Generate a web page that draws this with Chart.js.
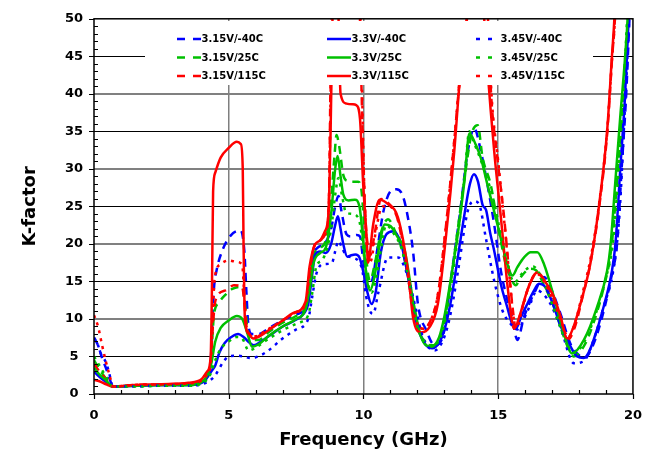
<!DOCTYPE html>
<html>
<head>
<meta charset="utf-8">
<script src="https://cdn.jsdelivr.net/npm/chart.js@4.4.0/dist/chart.umd.min.js"></script>
<style>
  body { margin: 0; background: #fff; }
  #wrap { width: 656px; height: 454px; }
</style>
</head>
<body>
<div id="wrap"><canvas id="kChart" width="656" height="454"></canvas></div>
<script>
// K-factor vs frequency, [GHz, K] pairs per supply/temperature corner
const v315_m40 = [[0,7.5],[0.15,6.5],[0.3,4.8],[0.45,3.4],[0.6,1.8],[0.7,1.0],[1.5,1.1],[2.5,1.2],[3.5,1.2],[4.0,1.5],[4.2,2.2],[4.33,4],[4.38,9],[4.45,14],[4.55,16.5],[4.76,19.1],[5.07,21.1],[5.44,21.8],[5.58,19],[5.65,14],[5.72,9.5],[5.85,8.0],[6.1,8.0],[6.5,8.8],[7.0,9.8],[7.5,10.6],[7.85,11.5],[8.0,14],[8.15,18.5],[8.3,19.5],[8.55,20],[8.8,22],[8.95,25],[9.07,26.4],[9.2,24],[9.37,21.3],[9.55,21],[9.75,21.2],[9.87,21],[10.0,17.5],[10.15,14.8],[10.3,15],[10.5,19],[10.75,24.5],[11.0,27],[11.22,27.3],[11.45,26.5],[11.65,23.5],[11.84,19],[12.02,12],[12.33,8.5],[12.64,6.5],[12.94,7.6],[13.25,15.5],[13.56,23.5],[13.87,32.3],[14.11,35.4],[14.36,32.3],[14.6,27.9],[14.85,22.6],[15.1,16.4],[15.34,12.5],[15.5,10.5],[15.71,7.2],[15.96,10.3],[16.33,13.4],[16.7,15.6],[16.94,14.2],[17.31,10.7],[17.68,6.7],[18.05,5],[18.2,4.8],[18.54,6.7],[18.91,11],[19.22,16],[19.41,20],[19.58,30],[19.75,40],[19.87,50],[19.93,55]];
const v315_p25 = [[0,4.5],[0.2,3.3],[0.45,2.0],[0.7,1.0],[1.5,1.1],[2.5,1.2],[3.5,1.2],[4.0,1.5],[4.2,2.3],[4.33,4],[4.4,8],[4.45,10.5],[4.64,12.2],[4.9,13.3],[5.13,14],[5.5,14.3],[5.6,12],[5.7,8.5],[5.85,7.2],[6.1,7.2],[6.5,8.3],[7.0,9.5],[7.5,10.4],[7.85,11.6],[8.0,14.5],[8.15,18.5],[8.4,19.5],[8.6,20.5],[8.8,26],[8.93,32],[9.0,34.5],[9.1,33],[9.25,29.2],[9.4,28.4],[9.56,28.3],[9.8,28.3],[9.93,27],[10.05,21],[10.15,16.5],[10.25,15.1],[10.4,17],[10.65,21.5],[10.91,23.3],[11.16,21.8],[11.45,19],[11.75,14],[12.05,8.5],[12.35,6.8],[12.6,6.5],[12.9,8],[13.2,14],[13.5,22],[13.8,30],[14.0,34.5],[14.24,35.8],[14.42,31.5],[14.72,27.9],[15.03,21.7],[15.28,17.3],[15.53,15],[15.65,14.5],[15.84,15.6],[16.2,16.7],[16.4,16.5],[16.7,14.5],[17.07,11.6],[17.4,8],[17.68,5.5],[17.8,5],[18.2,6.5],[18.54,9.5],[18.9,14],[19.2,19.5],[19.38,27],[19.56,36],[19.74,46],[19.82,50],[19.86,55]];
const v315_p115 = [[0,4],[0.2,3],[0.45,2],[0.7,1.0],[1.5,1.2],[2.5,1.3],[3.5,1.4],[4.0,1.8],[4.2,2.6],[4.33,4],[4.4,8.5],[4.51,12.5],[4.88,13.8],[5.19,14.5],[5.5,14.3],[5.58,12],[5.66,9],[5.8,7.8],[6.0,7.6],[6.4,8.4],[7.0,9.8],[7.5,10.9],[7.85,12],[8.0,16],[8.15,19.5],[8.4,20.5],[8.6,21.5],[8.72,26],[8.77,40],[8.82,55],[9.2,60],[9.82,55],[9.87,50],[9.93,40.3],[9.99,32],[10.07,23.6],[10.17,19.5],[10.25,18.5],[10.4,21],[10.65,26],[10.9,25.5],[11.25,23.5],[11.6,17],[11.85,11],[12.2,8.7],[12.45,9.5],[12.75,13],[13.05,22],[13.35,33],[13.6,43],[13.83,50],[14.1,62],[14.55,55],[14.62,50],[14.73,40.3],[14.97,31.4],[15.22,23.5],[15.4,16.4],[15.55,11],[15.65,8.8],[15.85,11],[16.15,14.5],[16.45,16.2],[16.7,15.2],[17.07,12.5],[17.35,9.5],[17.6,7.3],[17.85,9],[18.1,12.5],[18.45,18],[18.75,25],[19.05,35],[19.23,45],[19.33,50],[19.38,55]];
const v33_m40 = [[0,3.0],[0.2,2.3],[0.45,1.6],[0.7,1.0],[1.5,1.1],[2.5,1.2],[3.5,1.2],[4.0,1.5],[4.2,2.2],[4.35,3.0],[4.5,3.8],[4.65,5.5],[4.85,6.8],[5.1,7.6],[5.35,8.0],[5.55,7.6],[5.75,6.9],[5.93,6.5],[6.2,7.0],[6.6,8.0],[7.0,9.0],[7.4,9.7],[7.8,10.8],[7.95,12],[8.1,16],[8.2,18.5],[8.4,19],[8.6,18.8],[8.8,20],[8.95,22.5],[9.05,23.7],[9.15,22],[9.25,20],[9.4,18.3],[9.55,18.5],[9.7,18.6],[9.85,18.2],[10.0,16.2],[10.15,13.5],[10.3,12.0],[10.45,13.5],[10.65,19],[10.85,21.3],[11.1,21.7],[11.4,20],[11.7,14.7],[12.0,9],[12.3,6.6],[12.55,6.1],[12.8,6.8],[13.0,8.5],[13.25,12.5],[13.5,18.2],[13.75,24],[13.95,28],[14.1,29.3],[14.25,28.3],[14.42,25.2],[14.55,24.5],[14.7,21.5],[14.85,19.1],[15.1,14.6],[15.34,11.5],[15.5,9.5],[15.65,8.7],[15.85,10.3],[16.08,12],[16.3,13.6],[16.51,14.7],[16.76,14.2],[17.07,11.6],[17.3,9.2],[17.56,7.2],[17.93,5],[18.18,4.8],[18.35,5.5],[18.54,7.2],[18.91,11.6],[19.22,16.4],[19.35,20],[19.53,30],[19.71,40],[19.84,50],[19.9,55]];
const v33_p25 = [[0,3.5],[0.2,2.6],[0.45,1.8],[0.7,1.0],[1.5,1.1],[2.5,1.2],[3.5,1.2],[4.0,1.6],[4.2,2.5],[4.35,4],[4.5,7],[4.7,8.8],[5.0,9.8],[5.3,10.4],[5.5,10.0],[5.7,8],[5.86,6.3],[6.1,6.6],[6.5,7.8],[7.0,9.0],[7.5,10],[7.85,11.3],[8.0,14],[8.15,17.5],[8.4,18.8],[8.6,19.5],[8.8,24],[8.95,30],[9.04,31.7],[9.15,29],[9.25,26.6],[9.45,25.8],[9.68,25.9],[9.85,25],[10.0,20],[10.12,15.5],[10.24,13.8],[10.4,15.5],[10.6,20],[10.79,22.6],[11.0,22.4],[11.25,21],[11.53,19.1],[11.84,12.5],[12.14,7.6],[12.51,6.3],[12.8,7.5],[13.0,10.3],[13.25,15.5],[13.5,21.3],[13.75,28.5],[13.93,34.7],[14.17,33.2],[14.36,31.4],[14.6,27.9],[14.97,22.6],[15.34,17.3],[15.53,15.8],[15.71,16.9],[15.96,18.2],[16.2,18.9],[16.45,18.9],[16.7,17.3],[17.07,12.9],[17.44,8],[17.74,5.4],[18.18,7.2],[18.67,11.6],[19.04,16.4],[19.16,19.5],[19.34,28],[19.53,37],[19.71,45],[19.8,50],[19.85,55]];
const v33_p115 = [[0,1.9],[0.2,1.7],[0.45,1.3],[0.7,1.0],[1.5,1.2],[2.5,1.3],[3.5,1.5],[4.0,2.0],[4.2,3.0],[4.33,5],[4.38,15],[4.42,27],[4.5,29.5],[4.7,31.5],[5.0,32.8],[5.3,33.6],[5.45,33.3],[5.52,30],[5.55,20],[5.6,10],[5.75,8.0],[5.9,7.4],[6.2,7.8],[6.6,8.8],[7.0,9.8],[7.4,10.8],[7.85,12.3],[8.0,17],[8.2,19.9],[8.4,20.5],[8.57,21.7],[8.7,24],[8.78,35],[8.85,50],[8.88,56],[9.02,56],[9.15,40],[9.37,38.7],[9.6,38.6],[9.73,38.5],[9.87,36.7],[9.99,27.9],[10.11,21.3],[10.17,17.5],[10.36,22.6],[10.6,25.9],[10.91,25.3],[11.28,23.5],[11.65,16.4],[11.84,10.2],[12.14,8.2],[12.45,8.9],[12.76,12],[13.07,21.3],[13.37,32.4],[13.56,41.2],[13.84,50],[14.0,60],[14.3,60],[14.48,50],[14.6,43.4],[14.85,32.4],[15.1,23.5],[15.34,14.6],[15.53,9.3],[15.6,8.7],[15.8,10.5],[16.1,14],[16.45,16.2],[16.7,15.2],[17.07,12.9],[17.3,10.5],[17.56,7.4],[17.8,9],[18.05,12],[18.42,17.4],[18.73,24.8],[19.04,35],[19.22,45],[19.31,50],[19.36,55]];
const v345_m40 = [[0,7.5],[0.13,6.7],[0.25,5.4],[0.43,4.3],[0.55,3.0],[0.7,1.0],[1.5,1.0],[2.5,1.1],[3.5,1.1],[4.0,1.3],[4.3,1.8],[4.5,2.5],[4.8,4.3],[5.0,5.0],[5.3,5.1],[5.55,5.0],[5.8,4.8],[6.0,4.9],[6.4,5.6],[7.0,7.4],[7.5,8.6],[7.95,10],[8.1,13],[8.25,16],[8.5,17.3],[8.82,17.4],[8.95,19],[9.07,20.4],[9.2,19.5],[9.35,18.5],[9.56,18.2],[9.93,16.9],[10.1,13],[10.25,11],[10.36,10.7],[10.55,13.5],[10.91,18.2],[11.28,18.2],[11.65,15.6],[11.9,12],[12.2,7.6],[12.64,5.8],[13.0,7.6],[13.25,11],[13.5,16.2],[13.87,24.4],[14.11,25.7],[14.3,25.2],[14.54,20.8],[14.85,15.1],[15.16,11.1],[15.47,9.3],[15.71,8.6],[16.08,11],[16.45,13.8],[16.7,13.2],[16.94,12],[17.31,8.9],[17.81,4.1],[18.18,4.4],[18.54,7.2],[18.91,11.6],[19.29,16.9],[19.5,24],[19.7,38],[19.86,50],[19.92,55]];
const v345_p25 = [[0,5],[0.2,3.8],[0.45,2.3],[0.7,1.0],[1.5,1.0],[2.5,1.1],[3.5,1.1],[4.0,1.4],[4.3,2.5],[4.5,4.5],[4.7,6.0],[5.0,7.0],[5.3,7.6],[5.5,7.4],[5.74,5.8],[6.05,6.3],[6.5,7.4],[7.0,8.5],[7.6,9.5],[7.95,10.5],[8.1,13.5],[8.25,17],[8.5,18],[8.8,22],[8.95,26.5],[9.07,28.8],[9.2,26.5],[9.35,24.2],[9.6,24],[9.85,23],[10.0,19],[10.15,15],[10.3,13.5],[10.5,16],[10.85,22.5],[11.1,21.5],[11.4,19.5],[11.7,15],[12.0,9],[12.3,6.8],[12.55,6.5],[12.85,7.5],[13.15,12],[13.5,21],[13.75,29],[13.93,35],[14.1,33.5],[14.42,30.5],[14.85,25.5],[15.1,21.1],[15.35,17],[15.6,14.9],[15.96,16.4],[16.3,17],[16.6,15.5],[17.0,12],[17.4,8],[17.8,5.5],[18.2,7],[18.6,10.5],[19.0,15.5],[19.25,20],[19.45,29],[19.62,39],[19.78,50],[19.83,55]];
const v345_p115 = [[0,10.5],[0.15,9],[0.3,6.5],[0.45,4.2],[0.6,2.2],[0.7,1.0],[1.5,1.2],[2.5,1.3],[3.5,1.4],[4.0,1.8],[4.2,2.6],[4.33,4],[4.4,10],[4.48,15.5],[4.7,17.3],[5.0,17.8],[5.3,17.6],[5.5,17.2],[5.58,13],[5.66,9],[5.8,7.9],[6.0,7.7],[6.4,8.5],[7.0,9.8],[7.5,10.9],[7.85,12],[8.0,16],[8.15,19.5],[8.4,20.5],[8.6,21.5],[8.72,26],[8.78,40],[8.83,55],[9.2,60],[9.84,55],[9.89,50],[9.95,40],[10.01,30],[10.1,21],[10.2,17.5],[10.3,18],[10.45,21.5],[10.7,25],[10.95,25],[11.3,23],[11.6,17],[11.85,11],[12.2,8.7],[12.45,9.5],[12.75,13],[13.05,22],[13.35,33],[13.6,43],[13.83,50],[14.1,62],[14.55,55],[14.63,50],[14.75,40],[15.0,31],[15.25,22],[15.42,15.5],[15.58,10],[15.68,8.8],[15.9,11.5],[16.2,15],[16.45,16],[16.7,15],[17.07,12.2],[17.35,9.5],[17.6,7.6],[17.85,9.5],[18.1,13],[18.45,18.5],[18.75,25.5],[19.05,35.5],[19.23,45],[19.33,50],[19.38,55]];

const seriesLabels = ['3.15V/-40C','3.15V/25C','3.15V/115C','3.3V/-40C','3.3V/25C','3.3V/115C','3.45V/-40C','3.45V/25C','3.45V/115C'];
const seriesData = [v315_m40, v315_p25, v315_p115, v33_m40, v33_p25, v33_p115, v345_m40, v345_p25, v345_p115];
const xTicks = [0, 5, 10, 15, 20];
const yTicks = [0, 5, 10, 15, 20, 25, 30, 35, 40, 45, 50];

const FONT = '"DejaVu Sans", Verdana, sans-serif';
const colors = ['#0000ff', '#00c000', '#ff0000'];
const dashes = [[8, 6], [], [3, 5]];
const legendDash = [[8, 8], [], [4, 8]];

const datasets = seriesData.map((pts, i) => ({
  label: seriesLabels[i],
  data: pts.map(p => ({ x: p[0], y: p[1] })),
  borderColor: colors[i % 3],
  borderWidth: 2.5,
  borderDash: dashes[Math.floor(i / 3)],
  borderCapStyle: 'butt',
  pointRadius: 0,
  showLine: true,
  fill: false,
  cubicInterpolationMode: 'monotone',
  clip: 0,
  order: 9 - i
}));

// frame, minor ticks and the three-column legend
const decor = {
  id: 'decor',
  afterDatasetsDraw(chart) {
    const { ctx, chartArea: a, scales: { x, y } } = chart;
    ctx.save();

    // legend box
    ctx.fillStyle = '#fff';
    ctx.fillRect(145, 21, 448, 64);
    ctx.font = 'bold 10px ' + FONT;
    ctx.textBaseline = 'middle';
    ctx.fillStyle = '#000';
    const colX = [177, 327, 476];
    const rowY = [39, 57.5, 76];
    chart.data.datasets.forEach((ds, i) => {
      const cx = colX[Math.floor(i / 3)], cy = rowY[i % 3];
      ctx.strokeStyle = ds.borderColor;
      ctx.lineWidth = 2.5;
      ctx.setLineDash(legendDash[Math.floor(i / 3)]);
      ctx.beginPath();
      ctx.moveTo(cx, cy);
      ctx.lineTo(cx + 24, cy);
      ctx.stroke();
      ctx.setLineDash([]);
      ctx.fillText(ds.label, cx + 24.5, cy + 0.5);
    });

    // plot frame
    ctx.strokeStyle = '#000';
    ctx.lineWidth = 1.5;
    ctx.strokeRect(a.left, a.top, a.right - a.left, a.bottom - a.top);

    // tick marks
    ctx.lineWidth = 1.2;
    ctx.beginPath();
    for (let f = 0; f <= 20; f++) {
      const px = Math.round(x.getPixelForValue(f)) + 0.5;
      if (f % 5 === 0) { ctx.moveTo(px, a.bottom); ctx.lineTo(px, a.bottom + 5); }
      else { ctx.moveTo(px, a.bottom); ctx.lineTo(px, a.bottom - 4); }
    }
    for (let k = 0; k <= 50; k++) {
      const py = Math.round(y.getPixelForValue(k)) + 0.5;
      if (k % 5 === 0) { ctx.moveTo(a.left - 5, py); ctx.lineTo(a.left, py); }
      else { ctx.moveTo(a.left, py); ctx.lineTo(a.left + 4, py); }
    }
    ctx.stroke();
    ctx.restore();
  }
};

new Chart(document.getElementById('kChart'), {
  type: 'scatter',
  data: { datasets },
  plugins: [decor],
  options: {
    responsive: false,
    animation: false,
    devicePixelRatio: 1,
    layout: { padding: { top: 17, right: 20, left: 0, bottom: 0 } },
    plugins: { legend: { display: false }, tooltip: { enabled: false } },
    scales: {
      x: {
        type: 'linear', min: 0, max: 20,
        afterFit: s => { s.height = 60; },
        afterBuildTicks: s => { s.ticks = xTicks.map(v => ({ value: v })); },
        border: { display: false },
        grid: {
          drawTicks: false,
          color: c => (c.tick && c.tick.value > 0 && c.tick.value < 20) ? '#7f7f7f' : 'rgba(0,0,0,0)',
          lineWidth: 1.5
        },
        ticks: { padding: 14, color: '#000', font: { family: FONT, size: 13, weight: 'bold' } },
        title: { display: true, text: 'Frequency (GHz)', color: '#000', padding: { top: 0, bottom: 3 }, font: { family: FONT, size: 18, weight: 'bold' } }
      },
      y: {
        min: 0, max: 50,
        afterFit: s => { s.width = 94; },
        afterBuildTicks: s => { s.ticks = yTicks.map(v => ({ value: v })); },
        border: { display: false },
        grid: {
          drawTicks: false,
          color: c => {
            const v = c.tick ? c.tick.value : 0;
            if (v <= 0 || v >= 50) return 'rgba(0,0,0,0)';
            return v % 10 === 0 ? '#808080' : '#000';
          },
          lineWidth: c => (c.tick && c.tick.value % 10 === 0) ? 2 : 1
        },
        ticks: { padding: 11, crossAlign: 'center', color: '#000', font: { family: FONT, size: 13, weight: 'bold' } },
        title: { display: true, text: 'K-factor', color: '#000', padding: { top: 20, bottom: 0 }, font: { family: FONT, size: 18, weight: 'bold' } }
      }
    }
  }
});
</script>
</body>
</html>
